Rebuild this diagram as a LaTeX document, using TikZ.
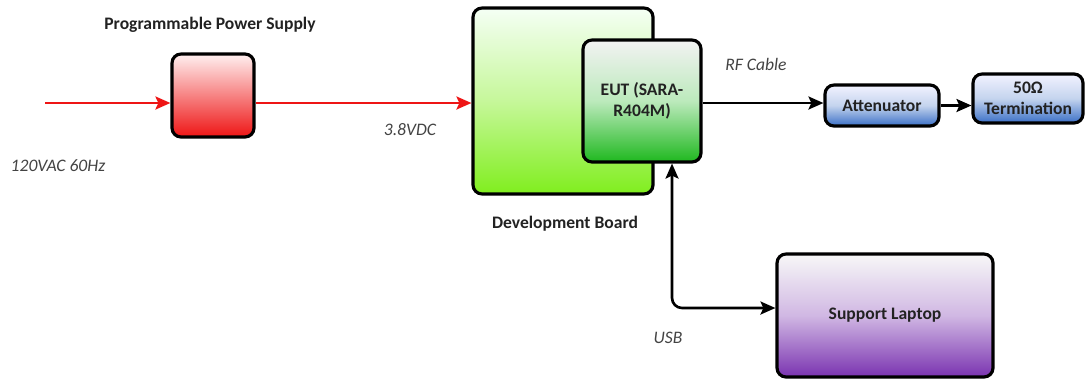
\documentclass[tikz,border=0pt]{standalone}
\usepackage{fontspec}
\setmainfont{Carlito}
\usetikzlibrary{arrows.meta,calc}
\definecolor{psred}{HTML}{EE1515}
\definecolor{devgreen}{HTML}{80EE1E}
\definecolor{eutgreen}{HTML}{1FB81F}
\definecolor{attblue}{HTML}{3A6FC6}
\definecolor{lappurple}{HTML}{7A33B0}
\definecolor{txt}{HTML}{222222}
\tikzset{
  box/.style={draw=black, line width=1.8pt, rounded corners=0.18cm, align=center,
    font=\bfseries\fontsize{10}{12}\selectfont, text=txt, inner sep=0pt},
  lbl/.style={font=\bfseries\fontsize{10}{12}\selectfont, text=txt, inner sep=0pt},
  ital/.style={font=\itshape\fontsize{10}{12}\selectfont, text=txt!85, inner sep=0pt},
  tip/.style={-{Stealth[length=0.3cm,width=0.26cm,inset=0.06cm]}},
  redarrow/.style={draw=psred, line width=1.5pt, tip},
  blkarrow/.style={draw=black, line width=1.5pt, tip},
}
\begin{document}
\begin{tikzpicture}[x=0.02cm,y=-0.02cm]
\useasboundingbox (0,0) rectangle (1087,379);
% boxes
\node[box, top color=red!6, bottom color=psred, minimum width=1.64cm, minimum height=1.66cm] (ps) at (213,95.5) {};
\node[box, top color=white!96!green, bottom color=devgreen, middle color=white!55!devgreen, minimum width=3.6cm, minimum height=3.72cm] (dev) at (563,101) {};
\node[box, top color=white!95!black, bottom color=eutgreen, middle color=white!70!eutgreen, minimum width=2.36cm, minimum height=2.44cm] (eut) at (642,101) {EUT (SARA-\\R404M)};
\node[box, top color=white!95!blue, bottom color=attblue, middle color=white!70!attblue, minimum width=2.28cm, minimum height=0.82cm] (att) at (882,105.5) {Attenuator};
\node[box, top color=white!95!blue, bottom color=attblue, middle color=white!70!attblue, minimum width=2.2cm, minimum height=0.98cm] (term) at (1028,98.5) {50Ω\\Termination};
\node[box, top color=white!97!black, bottom color=lappurple, middle color=white!65!lappurple, minimum width=4.32cm, minimum height=2.46cm] (lap) at (885,315.5) {Support Laptop};
% labels
\node[lbl] (pslbl) at (210,25) {Programmable Power Supply};
\node[lbl] (devlbl) at (565,224) {Development Board};
\node[ital] (aclbl) at (58,166) {120VAC 60Hz};
\node[ital] (dclbl) at (410,130) {3.8VDC};
\node[ital] (rflbl) at (756,64) {RF Cable};
\node[ital] (usblbl) at (668,338) {USB};
% connectors
\coordinate (acin) at (45,103);
\coordinate (usbc) at (672,308);
\draw[redarrow] (acin) -- (acin -| ps.west);
\draw[redarrow] (ps.east |- acin) -- (dev.west |- acin);
\draw[blkarrow] (eut.east |- 0,103) -- (att.west |- 0,103);
\draw[blkarrow] (att.east) -- (term.west |- att.east);
\draw[blkarrow, {Stealth[length=0.3cm,width=0.26cm,inset=0.06cm]}-{Stealth[length=0.3cm,width=0.26cm,inset=0.06cm]}, rounded corners=0.2cm] (usbc |- eut.south) -- (usbc) -- (usbc -| lap.west);
\end{tikzpicture}
\end{document}
